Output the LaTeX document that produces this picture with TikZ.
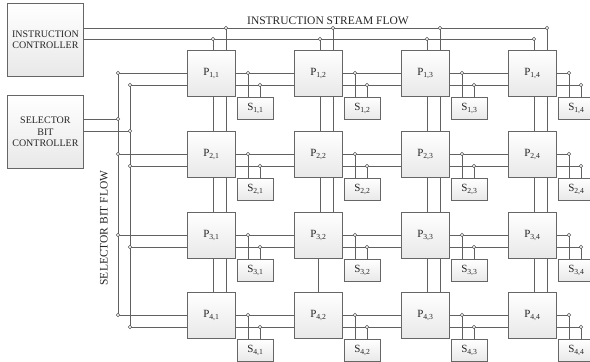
\documentclass[tikz,border=0pt]{standalone}
\usepackage{fontspec}
\setmainfont{Liberation Serif}
\usetikzlibrary{backgrounds}
\begin{document}
\begin{tikzpicture}[x=1pt,y=-1pt,
  wire/.style={draw=black!62, line width=0.85pt},
  box/.style={draw=black!60, line width=0.8pt, top color=white, bottom color=black!9,
    inner sep=0pt, anchor=north west, text=black!85},
  jdot/.style={circle, draw=black!65, fill=white, line width=0.6pt, inner sep=0pt, minimum size=3.4pt},
  lbl/.style={text=black!85, inner sep=0pt}]
\useasboundingbox (0,0) rectangle (590,362);

% controllers
\node[box, minimum width=76pt, minimum height=73pt, align=center,
  font=\fontsize{10}{11.5}\selectfont] (ic) at (7,3) {INSTRUCTION\\CONTROLLER};
\node[box, minimum width=76pt, minimum height=73pt, align=center,
  font=\fontsize{10}{11.5}\selectfont] (sbc) at (7,95) {SELECTOR\\BIT\\CONTROLLER};

% labels
\node[lbl, font=\fontsize{11.5}{13}\selectfont] (isf) at (328,21) {INSTRUCTION STREAM FLOW};
\node[lbl, rotate=90, font=\fontsize{11.5}{13}\selectfont] (sbf) at (104,228) {SELECTOR BIT FLOW};

% processors and selector cells
\foreach \r/\T in {1/50,2/131,3/212,4/292}{
  \foreach \c in {1,...,4}{
    \pgfmathsetmacro\L{187+107*(\c-1)}
    \node[box, minimum width=48pt, minimum height=46pt, font=\fontsize{11}{13}\selectfont]
      (P\r\c) at (\L,\T) {P\textsubscript{\r,\c}};
    \node[box, minimum width=36pt, minimum height=22pt, font=\fontsize{11}{13}\selectfont]
      (S\r\c) at (\L+50,\T+47) {S\textsubscript{\r,\c}};
    \coordinate (ta\r\c) at (\L+61,\T+23);
    \coordinate (tb\r\c) at (\L+73,\T+35);
  }
  \coordinate (sa\r) at (118,\T+23);
  \coordinate (sb\r) at (130,\T+35);
}
\foreach \c in {1,...,4}{
  \pgfmathsetmacro\L{187+107*(\c-1)}
  \coordinate (ia\c) at (\L+26,39);
  \coordinate (ib\c) at (\L+39,28);
}
\coordinate (sca) at (118,119);
\coordinate (scb) at (130,131);

\begin{pgfonlayer}{background}
  % instruction bus
  \draw[wire] (ic.east |- ib1) -- (ib4);
  \draw[wire] (ic.east |- ia1) -- (ia4);
  \foreach \c in {1,3,4}{
    \draw[wire] (ia\c) -- (ia\c |- P4\c.north);
    \draw[wire] (ib\c) -- (ib\c |- P4\c.north);
  }
  \draw[wire] (ia2) -- (ia2 |- P32.south);
  \draw[wire] (ib2) -- (ib2 |- P32.south);
  \draw[wire] (P32.south) -- (P42.north);
  % selector bus
  \draw[wire] (sa1) -- (sa4);
  \draw[wire] (sb1) -- (sb4);
  \draw[wire] (sbc.east |- sca) -- (sca);
  \draw[wire] (sbc.east |- scb) -- (scb);
  \foreach \r in {1,...,4}{
    \draw[wire] (sa\r) -- (ta\r4);
    \draw[wire] (sb\r) -- (tb\r4);
    \foreach \c in {1,...,4}{
      \draw[wire] (ta\r\c) -- (ta\r\c |- S\r\c.north);
      \draw[wire] (tb\r\c) -- (tb\r\c |- S\r\c.north);
    }
  }
\end{pgfonlayer}

% junction dots
\foreach \c in {1,...,4}{
  \node[jdot] at (ia\c) {};
  \node[jdot] at (ib\c) {};
}
\foreach \r in {1,...,4}{
  \node[jdot] at (sa\r) {};
  \node[jdot] at (sb\r) {};
  \foreach \c in {1,...,4}{
    \node[jdot] at (ta\r\c) {};
    \node[jdot] at (tb\r\c) {};
  }
}
\node[jdot] at (sca) {};
\node[jdot] at (scb) {};
\end{tikzpicture}
\end{document}
